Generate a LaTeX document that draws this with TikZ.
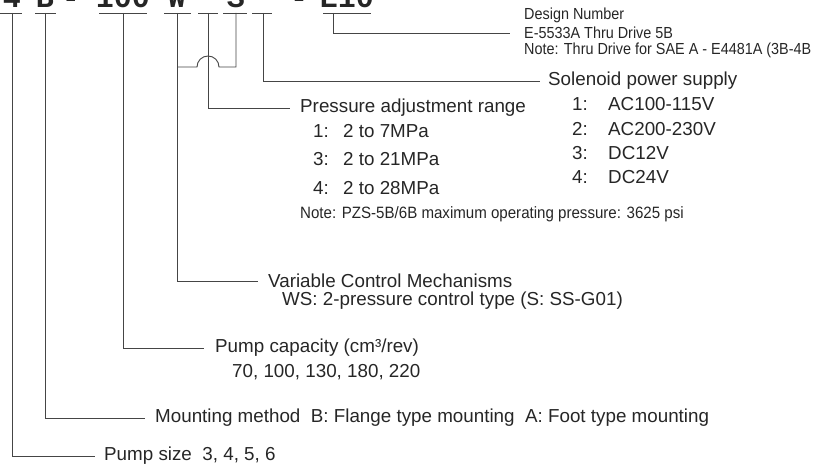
\documentclass[tikz,border=0pt]{standalone}
\usepackage{fontspec}
\setmainfont{Liberation Sans}
\newfontfamily\condfont[FakeStretch=0.92]{Liberation Sans}
\newfontfamily\conddfont[FakeStretch=0.9]{Liberation Sans}
\newfontfamily\codefont{Liberation Mono}
\definecolor{txt}{HTML}{262626}
\definecolor{ln}{HTML}{454545}
\begin{document}
\begin{tikzpicture}[x=1pt,y=-1pt,
  lab/.style={anchor=west,inner sep=0pt,font=\fontsize{18.8}{22}\selectfont,text=txt},
  notetext/.style={anchor=west,inner sep=0pt,font=\condfont\fontsize{16.4}{19}\selectfont,text=txt},
  designtext/.style={anchor=west,inner sep=0pt,font=\conddfont\fontsize{16}{18}\selectfont,text=txt},
  code/.style={anchor=base,inner sep=0pt,font=\codefont\bfseries\fontsize{30}{30}\selectfont,text=txt},
  wire/.style={draw=ln,line width=0.9pt},
  ]
\useasboundingbox (0,0) rectangle (815,473);
% code characters
\node[code] (k4) at (12,8) {4};
\node[code] (kB) at (45,8) {B};
\node[code] (kd1) at (71,8) {-};
\node[code] (k100) at (123,8) {100};
\node[code] (kW) at (177,8) {W};
\node[code] (ka1) at (208,8) {*};
\node[code] (kS) at (236,8) {S};
\node[code] (ka2) at (263,8) {*};
\node[code] (kd2) at (299,8) {-};
\node[code] (kE) at (347,8) {E10};
% underlines
\draw[wire] (0,13) -- (22,13);
\draw[wire] (35,13) -- (56,13);
\draw[wire] (99,13) -- (147,13);
\draw[wire] (164,13) -- (191,13);
\draw[wire] (198,13) -- (218,13);
\draw[wire] (223,13) -- (247,13);
\draw[wire] (252,13) -- (272,13);
\draw[wire] (323,13) -- (371,13);
\coordinate (u4) at (12,13);
\coordinate (uB) at (45,13);
\coordinate (u100) at (123,13);
\coordinate (uW) at (177,13);
\coordinate (uP) at (208,13);
\coordinate (uS) at (236,13);
\coordinate (uV) at (263,13);
\coordinate (uE) at (333,13);
% labels
\node[designtext] (d1) at (524,15) {Design Number};
\node[designtext] (d2) at (524,33) {E-5533A Thru Drive 5B};
\node[designtext] (d3) at (524,50) {Note: Thru Drive for SAE A - E4481A (3B-4B};

\node[lab] (sol) at (548,81) {Solenoid power supply};
\node[lab] (s1) at (572,104) {1:};
\node[lab] (s1v) at (608,104) {AC100-115V};
\node[lab] (s2) at (572,129) {2:};
\node[lab] (s2v) at (608,129) {AC200-230V};
\node[lab] (s3) at (572,153) {3:};
\node[lab] (s3v) at (608,153) {DC12V};
\node[lab] (s4) at (572,177) {4:};
\node[lab] (s4v) at (608,177) {DC24V};

\node[lab] (pr) at (300,108) {Pressure adjustment range};
\node[lab] (p1) at (313,131) {1:};
\node[lab] (p1v) at (343,131) {2 to 7MPa};
\node[lab] (p3) at (313,159) {3:};
\node[lab] (p3v) at (343,159) {2 to 21MPa};
\node[lab] (p4) at (313,188) {4:};
\node[lab] (p4v) at (343,188) {2 to 28MPa};
\node[notetext] (pn) at (300,214) {Note: PZS-5B/6B maximum operating pressure: 3625 psi};

\node[lab] (vc) at (268,281) {Variable Control Mechanisms};
\node[lab] (vc2) at (282,301) {WS: 2-pressure control type (S: SS-G01)};

\node[lab] (cap) at (215,348) {Pump capacity (cm³/rev)};
\node[lab] (cap2) at (232,372) {70, 100, 130, 180, 220};

\node[lab] (mnt) at (155,418) {Mounting method\ \ B: Flange type mounting\ \ A: Foot type mounting};

\node[lab] (size) at (104,456) {Pump size\ \ 3, 4, 5, 6};

% connectors
\draw[wire] (u4) |- ([xshift=-9pt]size.west);
\draw[wire] (uB) |- ([xshift=-10pt]mnt.west);
\draw[wire] (u100) |- ([xshift=-11pt]cap.west);
\draw[wire] (uW) |- ([xshift=-10pt]vc.west);
\draw[wire] (uP) |- ([xshift=-10pt]pr.west);
\draw[wire] (uV) |- ([xshift=-8pt]sol.west);
\draw[wire] (uE) |- ([xshift=-14pt]d2.west);
\coordinate (jS) at (236,67);
\coordinate (jW) at (177,67);
\draw[wire] (uS) -- (jS) -- (219,67) arc[start angle=0,end angle=180,radius=11pt] -- (jW);
\end{tikzpicture}
\end{document}
